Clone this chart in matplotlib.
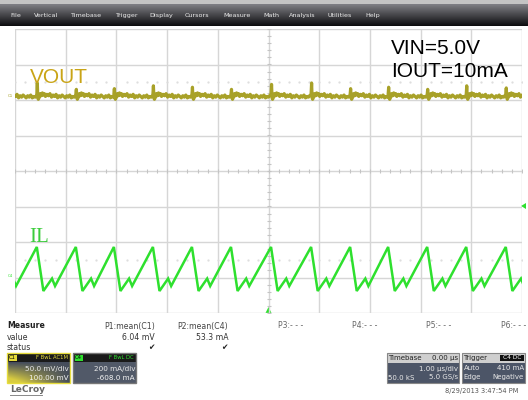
import numpy as np
import matplotlib
matplotlib.use('Agg')
from matplotlib import pyplot as plt
from matplotlib.patches import Rectangle, Polygon

W, H = 528, 400

# horizontal: 1 us/div, 10 div, trigger at centre
t_min, t_max = -5.0, 5.0

# C4 = IL : 200 mA/div, offset -608 mA
il_scale = 200.0
il_offset = -608.0
il_peak_t = [-4.57, -3.80, -3.05, -2.28, -1.51, -0.74, 0.05, 0.84, 1.61, 2.36, 3.13, 3.90, 4.68]
il_period = 0.77
il_shape_dt = [0.0, 0.13, 0.30, 0.36]      # us after each peak
il_shape_mA = [180, -68, 2, -40]

# C1 = VOUT : 50 mV/div, offset 100 mV (AC)
vout_scale = 50.0
vout_offset = 100.0
vout_dt = [0.00, 0.01, 0.02, 0.03, 0.05, 0.07, 0.09, 0.11, 0.13, 0.15, 0.17, 0.20, 0.23,
           0.26, 0.29, 0.32, 0.35, 0.38, 0.41, 0.44, 0.47, 0.50, 0.53, 0.56, 0.59,
           0.62, 0.65, 0.68, 0.71, 0.74, 0.76]
vout_mV = [8, 20, 3, 1, 4, 9, 6, 10, 7, 9, 5, 8, 6, 9, 4, 7, 5, 8, 3, 6, 4, 7, 5,
           3, 6, 4, 7, 3, 5, 4, 6]
vout_spike_mV = [17, 24, 15, 16, 20, 18, 15, 22, 24, 16, 18, 15, 20, 17]

menu_items = ['File', 'Vertical', 'Timebase', 'Trigger', 'Display', 'Cursors',
              'Measure', 'Math', 'Analysis', 'Utilities', 'Help']
menu_x = [10, 34, 70, 115, 149, 185, 223, 263, 289, 328, 365]

meas_names = ['P1:mean(C1)', 'P2:mean(C4)']
meas_values = ['6.04 mV', '53.3 mA']
empty_params = ['P3:- - -', 'P4:- - -', 'P5:- - -', 'P6:- - -']

fig = plt.figure(figsize=(W / 100, H / 100), dpi=100)
fig.patch.set_facecolor('white')

# ---- background layer in pixel coords
bg = fig.add_axes([0, 0, 1, 1], zorder=0)
bg.set_xlim(0, W)
bg.set_ylim(H, 0)
bg.axis('off')

# menu bar
grad = np.linspace(0, 1, 40)[:, None]
top = np.array([0.50, 0.50, 0.52])
bot = np.array([0.05, 0.05, 0.06])
bar = top[None, None, :] * (1 - grad[:, :, None]) + bot[None, None, :] * grad[:, :, None]
bar = np.repeat(bar, 2, axis=1)
bg.add_patch(Rectangle((0, 0), W, 4, color='#c4c4c4', lw=0))
bg.imshow(bar, extent=[0, W, 26, 4], aspect='auto', interpolation='bilinear')
for name, x in zip(menu_items, menu_x):
    bg.text(x, 17, name, color='#ececec', fontsize=4.6, va='baseline', ha='left')

# measure table
fs = 5.6
bg.text(7, 326, 'Measure', fontsize=fs, fontweight='bold', va='center', color='#222222')
bg.text(7, 337, 'value', fontsize=fs, va='center', color='#333333')
bg.text(7, 347.5, 'status', fontsize=fs, va='center', color='#333333')
for name, val, xr in zip(meas_names, meas_values, [155, 228]):
    bg.text(xr, 326, name, fontsize=fs, ha='right', va='center', color='#444444')
    bg.text(xr, 337, val, fontsize=fs, ha='right', va='center', color='#333333')
    bg.text(xr - 4, 347.5, '\u2714', fontsize=fs, ha='center', va='center', color='#222222')
for name, x in zip(empty_params, [278, 352, 426, 501]):
    bg.text(x, 326, name, fontsize=fs, ha='left', va='center', color='#666666')

# channel descriptor boxes
def chan_box(x0, label, label_col, head_txt, lines, glow):
    w, hh = 63, 30
    body = np.zeros((20, 40, 3))
    dark = np.array([0.27, 0.30, 0.36])
    yel = np.array([0.85, 0.80, 0.25])
    for i in range(20):
        for j in range(40):
            a = (i / 19) * (1 - j / 39) if glow else 0.0
            a = min(1.0, a * 1.3)
            body[i, j] = dark * (1 - a) + yel * a + (0.0 if glow else 0.05)
    body = np.clip(body, 0, 1)
    bg.imshow(body, extent=[x0, x0 + w, 383, 362], aspect='auto', interpolation='bilinear', zorder=2)
    bg.add_patch(Rectangle((x0, 353), w, 9, color='#1a1a1a', lw=0, zorder=2))
    bg.add_patch(Rectangle((x0 + 1.5, 354.5), 8, 6, color=label_col, lw=0, zorder=3))
    bg.text(x0 + 5.5, 357.6, label, fontsize=3.8, ha='center', va='center', color='black', zorder=4)
    bg.text(x0 + w - 2, 357.6, head_txt, fontsize=3.8, ha='right', va='center', color=label_col, zorder=4)
    bg.text(x0 + w - 1, 369, lines[0], fontsize=5.2, ha='right', va='center', color='#e8e8e8', zorder=4)
    bg.text(x0 + w - 1, 378, lines[1], fontsize=5.2, ha='right', va='center', color='#f4f4f4', zorder=4)
    bg.add_patch(Rectangle((x0, 353), w, hh, fill=False, ec=label_col if glow else '#777777',
                           lw=1.0, zorder=5))

chan_box(7, 'C1', '#e6dc3c', 'F BwL AC1M', ['50.0 mV/div', '100.00 mV'], True)
chan_box(73, 'C4', '#2fe02f', 'F BwL DC', ['200 mA/div', '-608.0 mA'], False)

bg.text(10, 390, 'LeCroy', fontsize=6.5, va='center', color='#666666', fontweight='bold')
bg.plot([10, 42], [394.5, 394.5], color='#888888', lw=0.7)

# timebase / trigger boxes
def info_box(x0, w, title, right_head, rows, badge=None):
    bg.add_patch(Rectangle((x0, 353), w, 30, color='#4c5567', lw=0, zorder=2))
    bg.add_patch(Rectangle((x0, 353), w, 9.5, color='#cfcfcf', lw=0, zorder=3))
    bg.add_patch(Rectangle((x0, 353), w, 30, fill=False, ec='#888888', lw=0.8, zorder=4))
    bg.text(x0 + 1.5, 357.8, title, fontsize=5.0, va='center', color='#222222', zorder=5)
    if badge:
        bg.add_patch(Rectangle((x0 + w - 25, 354.5), 24, 6.5, color='#111111', lw=0, zorder=5))
        bg.text(x0 + w - 13, 357.8, badge, fontsize=4.2, ha='center', va='center', color='white', zorder=6)
    else:
        bg.text(x0 + w - 1, 357.8, right_head, fontsize=5.0, ha='right', va='center', color='#222222', zorder=5)
    for (lt, rt), y in zip(rows, [368.5, 377.5]):
        bg.text(x0 + 1.5, y, lt, fontsize=5.0, va='center', color='#e8e8e8', zorder=5)
        bg.text(x0 + w - 1, y, rt, fontsize=5.0, ha='right', va='center', color='#e8e8e8', zorder=5)

info_box(387, 72, 'Timebase', '0.00 \u00b5s', [('', '1.00 \u00b5s/div'), ('50.0 kS', '5.0 GS/s')])
info_box(462, 63, 'Trigger', '', [('Auto', '410 mA'), ('Edge', 'Negative')], badge='C4 DC')
bg.text(518, 391, '8/29/2013 3:47:54 PM', fontsize=4.8, ha='right', va='center', color='#555555')

# ---- scope graticule
L, R, T, B = 15, 522, 29, 313
ax = fig.add_axes([L / W, 1 - B / H, (R - L) / W, (B - T) / H], zorder=1)
ax.set_xlim(t_min, t_max)
ax.set_ylim(-4, 4)
ax.axis('off')
ax.patch.set_alpha(0)
for x in np.arange(-5, 6, 1):
    ax.axvline(x, color='#d6d6d6', lw=1.0, zorder=1)
for y in np.arange(-4, 5, 1):
    ax.axhline(y, color='#d6d6d6', lw=1.0, zorder=1)
minor_t = np.arange(-5, 5.01, 0.2)
minor_v = np.arange(-4, 4.01, 0.2)
ax.plot(minor_t, np.zeros_like(minor_t), ls='none', marker='|', ms=3, color='#c4c4c4', mew=0.8, zorder=1)
ax.plot(np.zeros_like(minor_v), minor_v, ls='none', marker='_', ms=3, color='#c4c4c4', mew=0.8, zorder=1)
for yd in [2.5, -2.5]:
    ax.plot(minor_t, np.full_like(minor_t, yd), ls='none', marker='.', ms=1.2, color='#dcdcdc', zorder=1)

# ---- IL trace
il_t, il_v = [], []
for p in [il_peak_t[0] - il_period] + il_peak_t:
    for dt, v in zip(il_shape_dt, il_shape_mA):
        il_t.append(p + dt)
        il_v.append(v)
il_t = np.array(il_t)
il_div = (np.array(il_v) + il_offset) / il_scale
ax.plot(il_t, il_div, color='#2ee02e', lw=1.8, zorder=3, solid_joinstyle='miter')

# ---- VOUT trace
vt, vv = [], []
for p, s in zip([il_peak_t[0] - il_period] + il_peak_t, vout_spike_mV):
    for k, (dt, v) in enumerate(zip(vout_dt, vout_mV)):
        vt.append(p + dt)
        vv.append(s if k == 1 else v)
vt = np.array(vt)
v_div = (np.array(vv) + vout_offset) / vout_scale
ax.plot(vt, v_div, color='#a39c1c', lw=2.3, zorder=3, alpha=0.95)

# labels on the screen
ax.text(-4.71, 2.62, 'VOUT', fontsize=15, color='#c9a416', family='Liberation Sans', va='center', ha='left')
ax.text(-4.71, -1.86, 'IL', fontsize=15, color='#3ccc3c', family='Liberation Serif', va='center', ha='left')
ax.text(2.42, 3.44, 'VIN=5.0V', fontsize=15, color='black', family='Liberation Sans', va='center', ha='left')
ax.text(2.42, 2.79, 'IOUT=10mA', fontsize=15, color='black', family='Liberation Sans', va='center', ha='left')

# channel ground markers and trigger markers
bg.text(13.5, 96, 'C1', fontsize=2.8, ha='right', va='center', color='#a39c1c')
bg.text(13.5, 276, 'C4', fontsize=2.8, ha='right', va='center', color='#2ee02e')
bg.add_patch(Polygon([[521, 206], [526, 203], [526, 209]], color='#2ee02e', lw=0, zorder=6))
bg.add_patch(Polygon([[268.5, 307], [265.5, 313], [271.5, 313]], color='#2ee02e', lw=0, zorder=6))

fig.savefig('out.png', dpi=100)
